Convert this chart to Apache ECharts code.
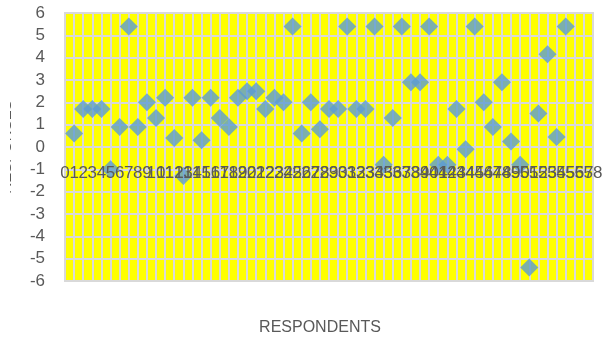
<!DOCTYPE html>
<html>
<head>
<meta charset="utf-8">
<script src="https://cdn.jsdelivr.net/npm/echarts@6/dist/echarts.min.js"></script>
<style>html,body{margin:0;padding:0;background:#fff;}#c{width:610px;height:340px;}</style>
</head>
<body>
<div id="c"></div>
<script>
var respondents = [1,2,3,4,5,6,7,8,9,10,11,12,13,14,15,16,17,18,19,20,21,22,23,24,25,26,27,28,29,30,31,32,33,34,35,36,37,38,39,40,41,42,43,44,45,46,47,48,49,50,51,52,53,54,55];
var responses = [0.6,1.7,1.7,1.7,-1.0,0.9,5.4,0.9,2.0,1.3,2.2,0.4,-1.3,2.2,0.3,2.2,1.3,0.9,2.2,2.5,2.5,1.7,2.2,2.0,5.4,0.6,2.0,0.8,1.7,1.7,5.4,1.7,1.7,5.4,-0.8,1.3,5.4,2.9,2.9,5.4,-0.8,-0.8,1.7,-0.1,5.4,2.0,0.9,2.9,0.25,-0.8,-5.4,1.5,4.15,0.45,5.4];
var xRange = [0, 58];
var yRange = [-6, 6];
var xTitle = 'RESPONDENTS';
var yTitle = 'RESPONSES';

var pts = respondents.map(function (r, i) { return [r, responses[i]]; });
var chart = echarts.init(document.getElementById('c'), null, {renderer: 'canvas'});
var txt = '#595959';
var grid = '#D9D9D9';
var plotTop = 13, plotBottom = 59, H = 340;
// offset that moves the bottom x axis up to the value 0 line
var zeroOffset = -((H - plotBottom - plotTop) / 2);
// parity -1: grid lines only; 0 / 1: even / odd tick labels drawn above the marks
function xAxisBase(parity) {
  var labels = parity >= 0;
  return {
    type: 'value', min: xRange[0], max: xRange[1], interval: 1,
    position: 'bottom', offset: zeroOffset, z: labels ? 10 : 0,
    axisLine: {show: false, onZero: false},
    axisTick: {show: false},
    axisLabel: {
      show: labels,
      color: txt, fontSize: 17, fontFamily: 'Liberation Sans', margin: 18,
      showMinLabel: parity === 0, showMaxLabel: parity === 0, hideOverlap: false,
      formatter: function (v) { return (Math.round(v) % 2 === parity) ? String(Math.round(v)) : ''; }
    },
    splitLine: {show: !labels, lineStyle: {color: grid, width: 2}}
  };
}
chart.setOption({
  backgroundColor: '#ffffff',
  animation: false,
  grid: {left: 65, right: 17, top: plotTop, bottom: plotBottom, outerBoundsMode: 'none', containLabel: false,
         show: true, backgroundColor: '#FFFF00', borderColor: grid, borderWidth: 2},
  xAxis: [xAxisBase(-1), xAxisBase(0), xAxisBase(1)],
  yAxis: {
    type: 'value', min: yRange[0], max: yRange[1], interval: 1,
    name: yTitle, nameLocation: 'middle', nameGap: 51, nameRotate: 90,
    nameTextStyle: {color: txt, fontSize: 15, fontFamily: 'Liberation Sans'},
    axisLine: {show: false},
    axisTick: {show: false},
    axisLabel: {color: txt, fontSize: 17, fontFamily: 'Liberation Sans', margin: 20},
    splitLine: {show: true, lineStyle: {color: grid, width: 2}}
  },
  graphic: [
    {type: 'rect', left: 0, top: 90, z: 100, shape: {width: 10, height: 115}, style: {fill: '#ffffff'}},
    {type: 'text', x: 320, y: 320, z: 100,
     style: {text: xTitle, fill: txt, font: '16px "Liberation Sans"', textAlign: 'center'}}
  ],
  series: [{
    type: 'scatter', xAxisIndex: 0, data: pts, symbol: 'diamond', symbolSize: 18,
    itemStyle: {color: '#5B9BD5'}
  }]
});
</script>
</body>
</html>
